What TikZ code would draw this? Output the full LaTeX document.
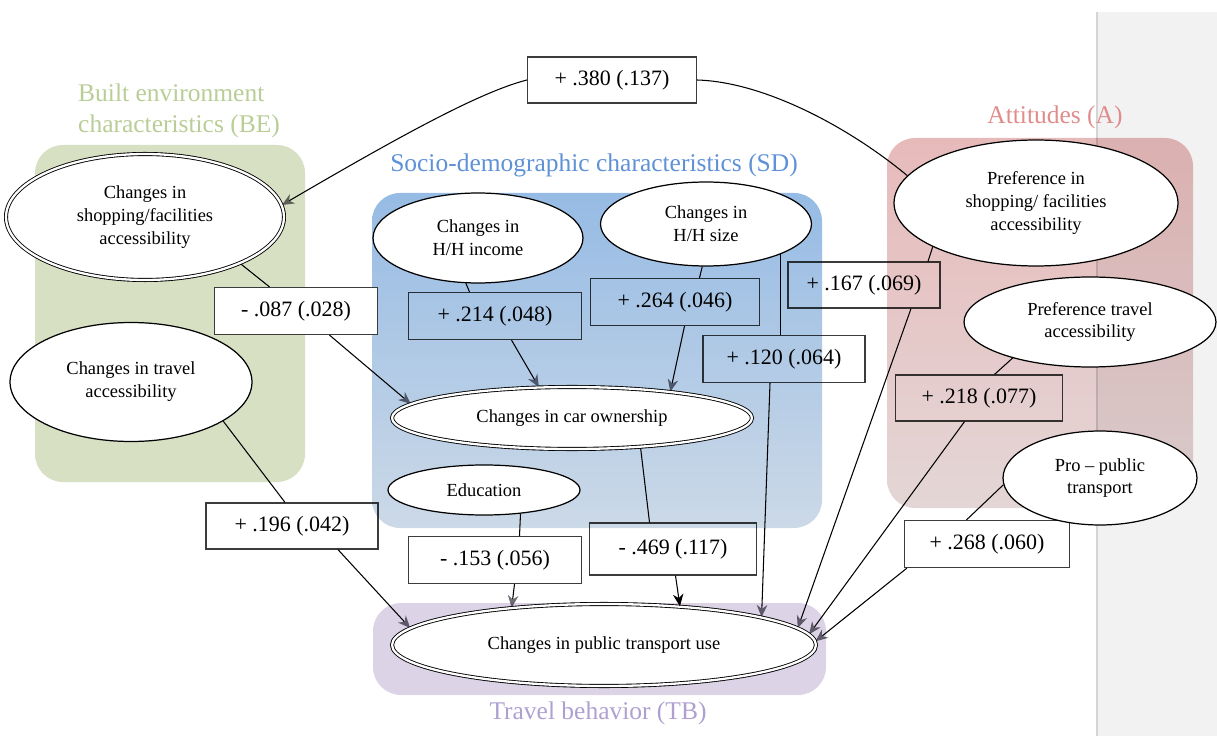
\documentclass[tikz,border=0pt]{standalone}
\usepackage{fontspec}
\setmainfont{Liberation Serif}
\usepackage{tikz}
\usetikzlibrary{shapes.geometric,arrows.meta,positioning,calc}
\definecolor{becolor}{RGB}{216,224,196}
\definecolor{betext}{RGB}{185,205,150}
\definecolor{sdtop}{RGB}{150,187,228}
\definecolor{sdbottom}{RGB}{204,217,231}
\definecolor{sdtext}{RGB}{95,145,215}
\definecolor{atop}{RGB}{231,186,186}
\definecolor{abottom}{RGB}{228,214,214}
\definecolor{atext}{RGB}{225,140,140}
\definecolor{tbcolor}{RGB}{220,212,230}
\definecolor{tbtext}{RGB}{175,160,210}
\definecolor{boxline}{RGB}{60,60,60}
\definecolor{tipgray}{RGB}{110,108,118}
\definecolor{stripgray}{RGB}{242,242,242}
\pgfdeclarelayer{edges}
\pgfdeclarelayer{regions}
\pgfsetlayers{edges,regions,main}

\begin{document}
\begin{tikzpicture}[x=0.02cm, y=-0.02cm,
    var/.style={ellipse, draw, fill=white, line width=0.7pt, inner sep=0pt, align=center, font=\fontsize{10.5}{13}\selectfont},
    dvar/.style={var, double, double distance=1.3pt, line width=0.5pt},
    coef/.style={rectangle, draw=boxline, fill=white, line width=0.7pt, inner sep=0pt, font=\fontsize{12.5}{14}\selectfont},
    conn/.style={line width=0.6pt},
    arr/.style={conn, -{Stealth[length=7pt,width=6pt,color=tipgray]}},
    region/.style={rounded corners=0.56cm, blend mode=multiply},
    grouplabel/.style={font=\fontsize{14.5}{18}\selectfont, align=left}]
    % Canvas
    \useasboundingbox (0,0) rectangle (1217,736);

    % Variables
    \node[dvar, minimum width=5.56cm, minimum height=2.52cm] (bes) at (145,217) {Changes in\\shopping/facilities\\accessibility};
    \node[var, minimum width=4.84cm, minimum height=2.38cm] (bet) at (131,382) {Changes in travel\\accessibility};
    \node[var, minimum width=4.2cm, minimum height=1.8cm] (inc) at (478,238) {Changes in\\H/H income};
    \node[var, minimum width=4.22cm, minimum height=1.68cm] (hhs) at (706,224) {Changes in\\H/H size};
    \node[dvar, minimum width=7.2cm, minimum height=1.24cm] (car) at (572,418) {Changes in car ownership};
    \node[var, minimum width=3.84cm, minimum height=1.0cm] (edu) at (484,490) {Education};
    \node[var, minimum width=5.68cm, minimum height=2.52cm] (pfs) at (1036,203) {Preference in\\shopping/ facilities\\accessibility};
    \node[var, minimum width=5.04cm, minimum height=1.8cm] (pft) at (1090,322) {Preference travel\\accessibility};
    \node[var, minimum width=3.88cm, minimum height=1.88cm] (ppt) at (1100,478) {Pro -- public\\transport};
    \node[dvar, minimum width=8.48cm, minimum height=1.64cm] (ptu) at (604,645) {Changes in public transport use};

    % Coefficients
    \node[coef, minimum width=3.26cm, minimum height=0.94cm] (c087) at (296,311) {- .087 (.028)};
    \begin{pgfonlayer}{edges}
    \fill[stripgray] (1097,12) rectangle (1217,736);
    \draw[stripgray!88!black, line width=0.8pt] (1097,12) -- (1097,736);
    \node[coef, minimum width=3.38cm, minimum height=0.92cm] (c380) at (612,80) {+ .380 (.137)};
    \node[coef, minimum width=3.46cm, minimum height=0.94cm] (c214) at (495,316) {+ .214 (.048)};
    \node[coef, minimum width=3.38cm, minimum height=0.94cm] (c264) at (675,302) {+ .264 (.046)};
    \node[coef, minimum width=3.24cm, minimum height=0.94cm] (c120) at (784,359) {+ .120 (.064)};
    \node[coef, minimum width=3.04cm, minimum height=0.92cm] (c167) at (864,285) {+ .167 (.069)};
    \node[coef, minimum width=3.34cm, minimum height=0.92cm] (c218) at (979,398) {+ .218 (.077)};
    \node[coef, minimum width=3.44cm, minimum height=0.92cm] (c196) at (292,526) {+ .196 (.042)};
    \node[coef, minimum width=3.46cm, minimum height=0.94cm] (c153) at (495,560) {- .153 (.056)};
    \node[coef, minimum width=3.34cm, minimum height=1.04cm] (c469) at (673,549) {- .469 (.117)};
    \node[coef, minimum width=3.3cm, minimum height=0.94cm] (c268) at (987,544) {+ .268 (.060)};

    % Paths
    \draw[conn] (pfs.168) .. controls (850,128) and (765,82) .. (c380.east);
    \draw[arr] (c380.west) .. controls (480,92) and (400,136) .. (bes.5);
    \draw[conn] (bes.-26) -- ([xshift=-0.53cm]c087.north);
    \draw[arr] ([xshift=0.67cm]c087.south) -- (car.175);
    \draw[conn] (inc.-105) -- ([xshift=-0.51cm]c214.north);
    \draw[arr] ([xshift=0.33cm]c214.south) -- (car.137);
    \draw[conn] (hhs.-95) -- ([xshift=0.49cm]c264.north);
    \draw[arr] ([xshift=0.19cm]c264.south) -- (car.15);
    \draw[conn] (hhs.-22) -- (hhs.-22 |- c120.north);
    \draw[arr] ([xshift=-0.28cm]c120.south) -- (ptu.10);
    \draw[conn] (pfs.-157) -- ([xshift=1.28cm]c167.north);
    \draw[arr] ([xshift=0.94cm]c167.south) -- (ptu.5);
    \draw[conn] (pft.-155) -- ([xshift=0.31cm]c218.north);
    \draw[arr] ([xshift=-0.29cm]c218.south) -- (ptu.3);
    \draw[conn] (ppt.-176) -- ([xshift=-0.41cm]c268.north);
    \draw[arr] ([xshift=0.06cm]c268.south west) -- (ptu.1);
    \draw[conn] (car.-23) -- ([xshift=-0.47cm]c469.north);
    \draw[conn] (edu.-33) -- ([xshift=0.49cm]c153.north);
    \draw[arr] ([xshift=0.39cm]c153.south) -- (ptu.158);
    \draw[conn] (bet.-23) -- ([xshift=-0.14cm]c196.north);
    \draw[arr] ([xshift=0.92cm]c196.south) -- (ptu.175);
    \end{pgfonlayer}
    \draw[conn, -{Stealth[length=7pt,width=6pt]}] ([xshift=0.05cm]c469.south) -- (ptu.27);

    % Groups
    \begin{pgfonlayer}{regions}
    \fill[region, becolor] (35,145) rectangle (305,482);
    \shade[region, top color=sdtop, bottom color=sdbottom] (372,193) rectangle (822,528);
    \shade[region, top color=atop, bottom color=abottom] (887,138) rectangle (1193,508);
    \fill[region, tbcolor] (373,603) rectangle (826,695);
    \end{pgfonlayer}
    \node[grouplabel, text=betext, anchor=west] (lbe) at (72,111) {Built environment\\characteristics (BE)};
    \node[grouplabel, text=sdtext] (lsd) at (594,165) {Socio-demographic characteristics (SD)};
    \node[grouplabel, text=atext] (la) at (1055,117) {Attitudes (A)};
    \node[grouplabel, text=tbtext] (ltb) at (598,713) {Travel behavior (TB)};
\end{tikzpicture}
\end{document}
